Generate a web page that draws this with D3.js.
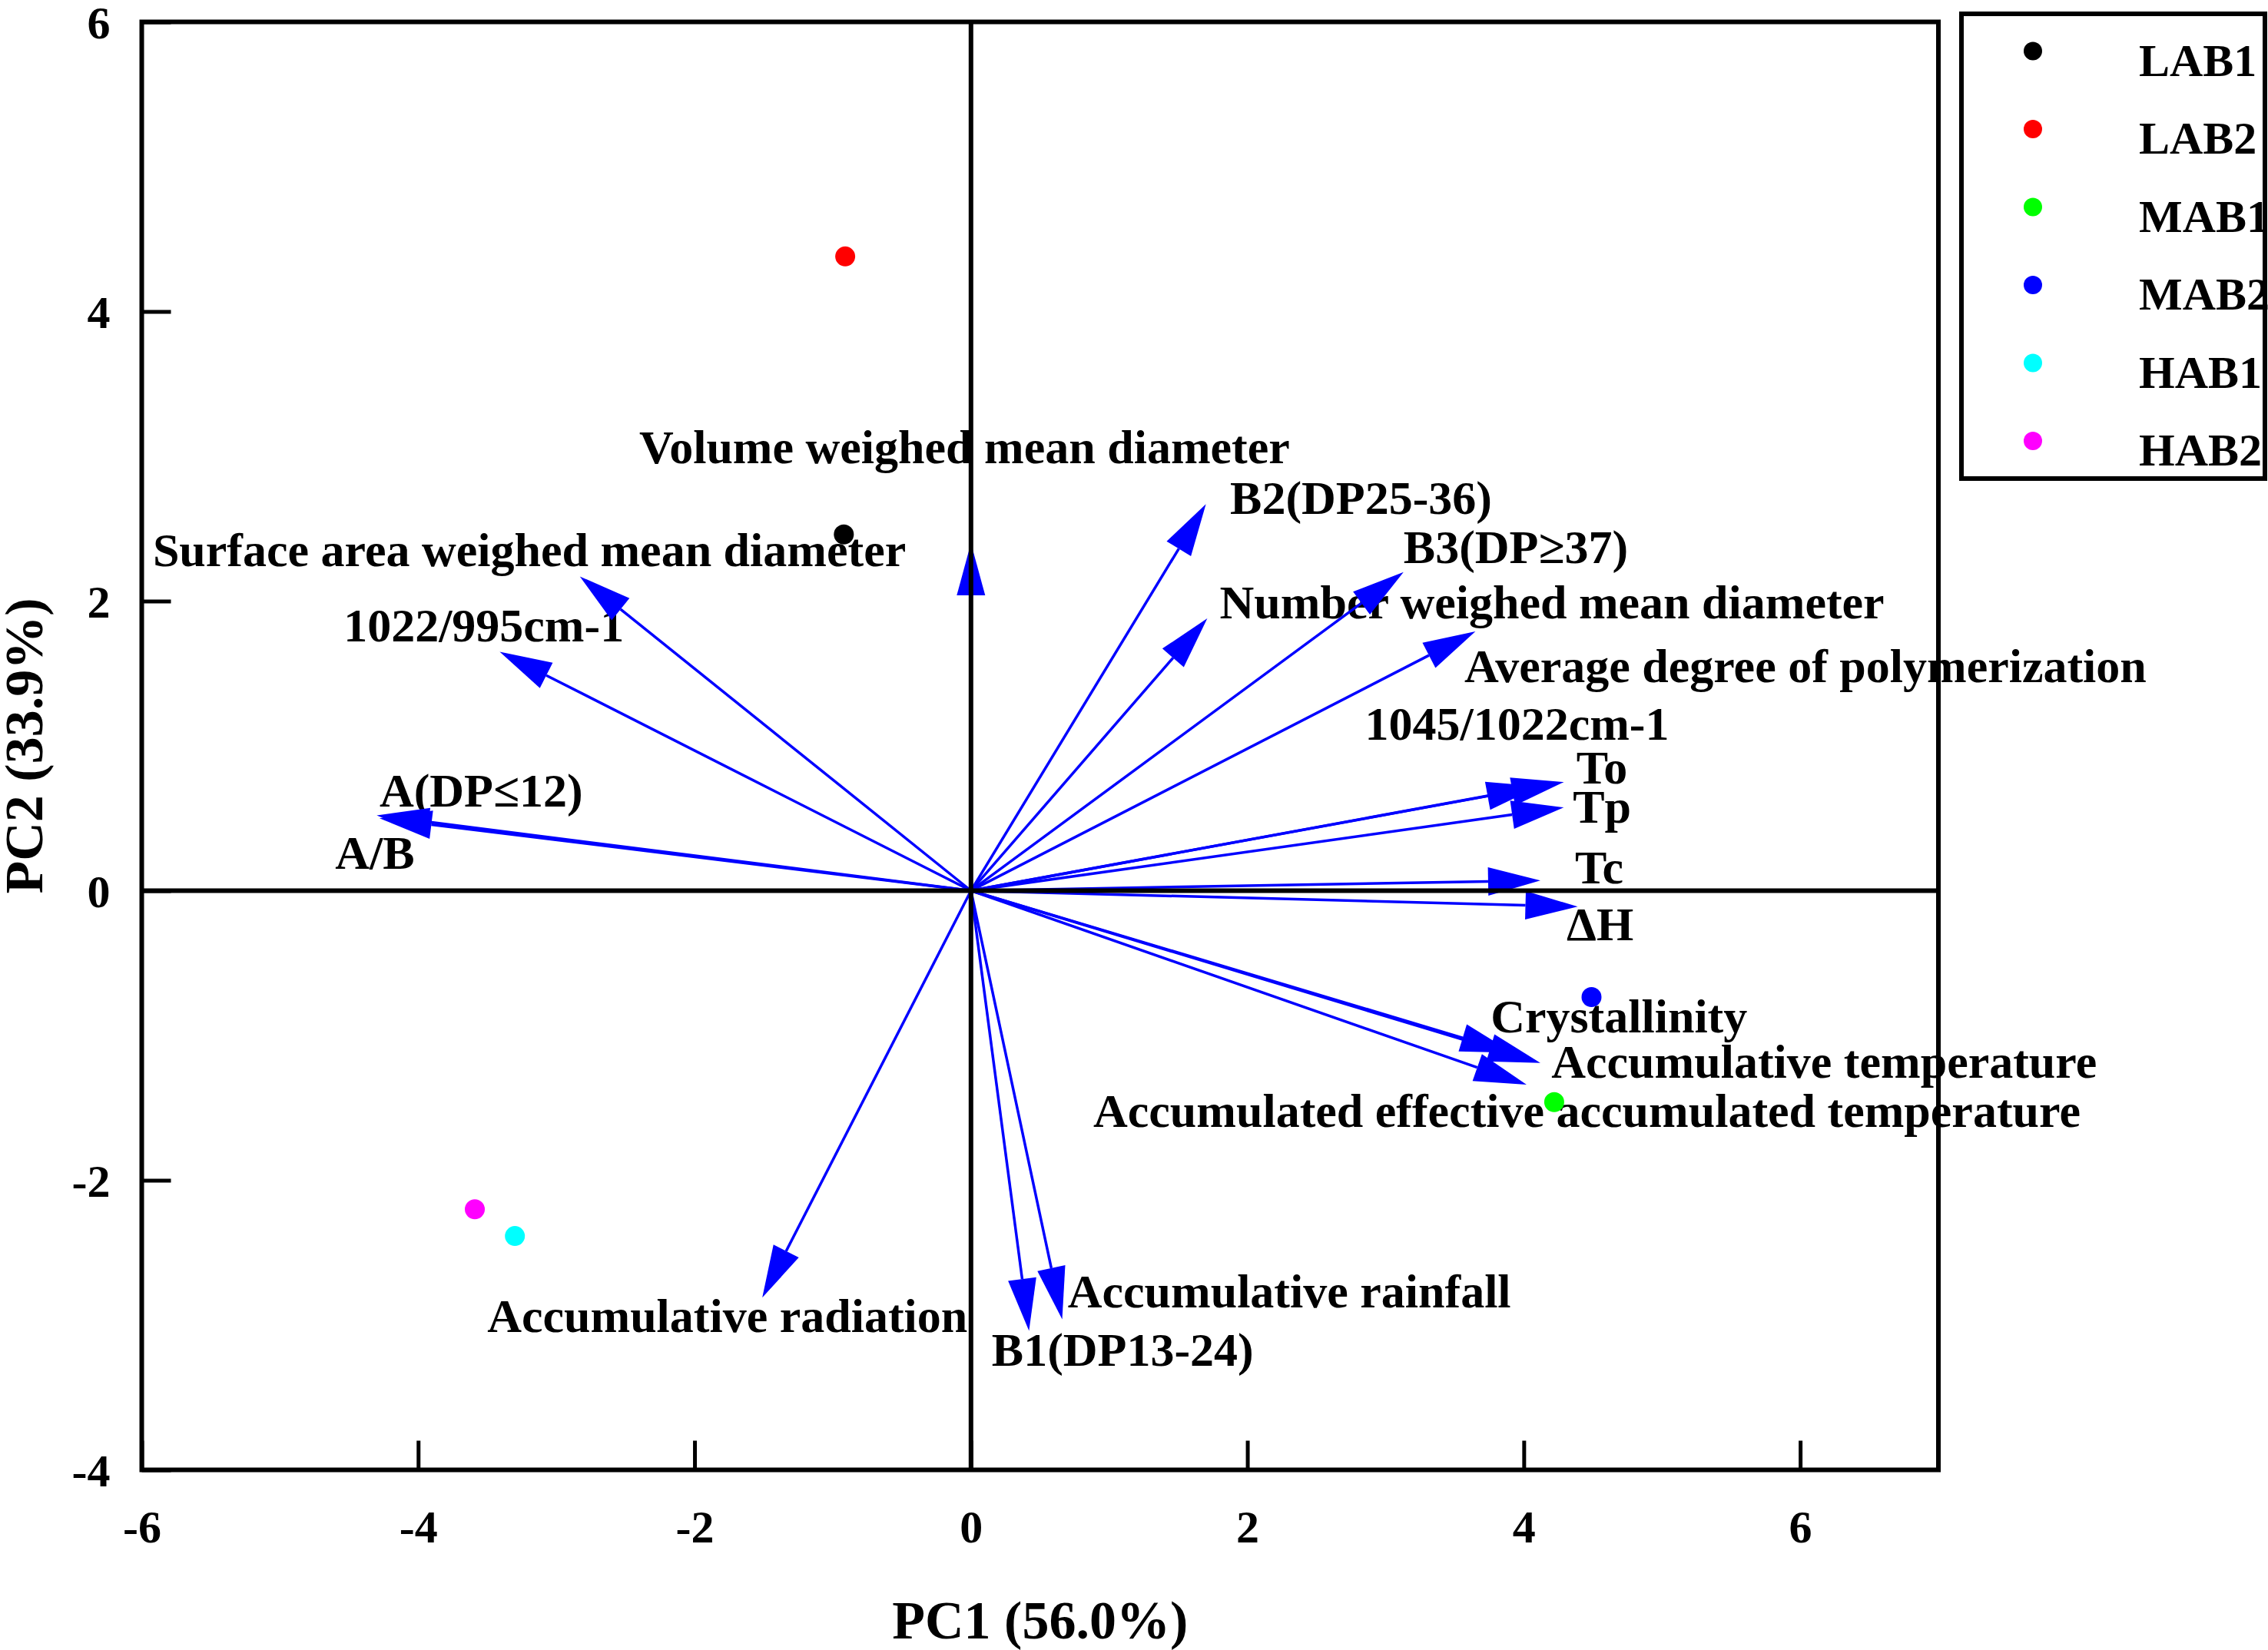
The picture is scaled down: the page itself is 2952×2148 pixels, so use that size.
<!DOCTYPE html>
<html>
<head>
<meta charset="utf-8">
<script src="https://cdn.jsdelivr.net/npm/d3@7"></script>
<style>
  body { margin: 0; background: #fff; }
  svg text { font-family: "Liberation Serif", "Times New Roman", serif; font-weight: bold; }
</style>
</head>
<body>
<svg id="chart" width="2952" height="2148"></svg>
<script>
// sample scores
var groups = ["LAB1", "LAB2", "MAB1", "MAB2", "HAB1", "HAB2"];
var groupColors = ["#000000", "#ff0000", "#00ff00", "#0000ff", "#00ffff", "#ff00ff"];
var pc1Scores = [-0.92, -0.91, 4.22, 4.49, -3.30, -3.59];
var pc2Scores = [2.46, 4.38, -1.46, -0.735, -2.385, -2.20];

// variable loadings (arrow tips)
var variables = [
  "Volume weighed mean diameter",
  "Surface area weighed mean diameter",
  "1022/995cm-1",
  "A(DP\u226412)",
  "A/B",
  "B2(DP25-36)",
  "B3(DP\u226537)",
  "Number weighed mean diameter",
  "Average degree of polymerization",
  "1045/1022cm-1",
  "To",
  "Tp",
  "Tc",
  "\u0394H",
  "Crystallinity",
  "Accumulative temperature",
  "Accumulated effective accumulated temperature",
  "Accumulative rainfall",
  "Accumulative radiation",
  "B1(DP13-24)"
];
var pc1Loadings = [0.0, -2.83, -3.41, -4.30, -4.28, 1.70, 3.13, 1.71, 3.65, 4.11, 4.29, 4.29, 4.12, 4.39, 3.92, 4.12, 4.02, 0.66, -1.51, 0.42];
var pc2Loadings = [2.40, 2.17, 1.65, 0.52, 0.50, 2.67, 2.20, 1.88, 1.79, 0.72, 0.75, 0.575, 0.07, -0.11, -1.12, -1.19, -1.34, -2.96, -2.81, -3.04];

// where each variable name sits (in PC units)
var labelPC1 = [-2.40, -5.92, -4.54, -4.28, -4.60, 1.875, 3.13, 1.80, 3.57, 2.85, 4.38, 4.355, 4.37, 4.31, 3.76, 4.20, 0.885, 0.70, -3.50, 0.15];
var labelPC2 = [2.95, 2.24, 1.72, 0.58, 0.15, 2.60, 2.26, 1.88, 1.44, 1.04, 0.74, 0.47, 0.05, -0.34, -0.98, -1.29, -1.63, -2.88, -3.05, -3.28];

var xTicks = [-6, -4, -2, 0, 2, 4, 6];
var yTicks = [-4, -2, 0, 2, 4, 6];

var plotL = 184.5, plotR = 2523, plotT = 28.5, plotB = 1913.5;

var svg = d3.select("#chart");

var x = d3.scaleLinear().domain([-6, 7]).range([plotL, plotR]);
var y = d3.scaleLinear().domain([-4, 6]).range([plotB, plotT]);

// variable labels
svg.append("g").selectAll("text")
  .data(variables)
  .enter()
  .append("text")
  .attr("x", function (d, i) { return x(labelPC1[i]); })
  .attr("y", function (d, i) { return y(labelPC2[i]); })
  .attr("font-size", 62)
  .attr("fill", "#000")
  .text(function (d) { return d; });

// arrows
var headLen = 68, headHalf = 18.5;
var arrows = svg.append("g");
variables.forEach(function (v, i) {
  var x0 = x(0), y0 = y(0);
  var x1 = x(pc1Loadings[i]), y1 = y(pc2Loadings[i]);
  var dx = x1 - x0, dy = y1 - y0;
  var len = Math.sqrt(dx * dx + dy * dy);
  var ux = dx / len, uy = dy / len;
  var bx = x1 - ux * headLen, by = y1 - uy * headLen;
  arrows.append("line")
    .attr("x1", x0).attr("y1", y0)
    .attr("x2", bx).attr("y2", by)
    .attr("stroke", "#0000ff")
    .attr("stroke-width", 3.5);
  arrows.append("polygon")
    .attr("points", [
      [x1, y1],
      [bx - uy * headHalf, by + ux * headHalf],
      [bx + uy * headHalf, by - ux * headHalf]
    ].map(function (p) { return p.join(","); }).join(" "))
    .attr("fill", "#0000ff");
});

// zero lines
svg.append("line")
  .attr("x1", x(0)).attr("x2", x(0))
  .attr("y1", plotT).attr("y2", plotB)
  .attr("stroke", "#000").attr("stroke-width", 6);
svg.append("line")
  .attr("x1", plotL).attr("x2", plotR)
  .attr("y1", y(0)).attr("y2", y(0))
  .attr("stroke", "#000").attr("stroke-width", 6);

// axes
var xAxis = svg.append("g")
  .attr("transform", "translate(0," + plotB + ")")
  .call(d3.axisBottom(x).tickValues(xTicks).tickSize(-38).tickFormat(function (d) { return String(d); }));
xAxis.attr("font-family", null).attr("font-size", null);
xAxis.select(".domain").remove();
xAxis.selectAll("line").attr("stroke", "#000").attr("stroke-width", 5);
xAxis.selectAll("text")
  .attr("y", 94).attr("dy", 0)
  .attr("font-size", 60)
  .attr("fill", "#000");

var yAxis = svg.append("g")
  .attr("transform", "translate(" + plotL + ",0)")
  .call(d3.axisLeft(y).tickValues(yTicks).tickSize(-38).tickFormat(function (d) { return String(d); }));
yAxis.attr("font-family", null).attr("font-size", null);
yAxis.select(".domain").remove();
yAxis.selectAll("line").attr("stroke", "#000").attr("stroke-width", 5);
yAxis.selectAll("text")
  .attr("x", -41).attr("dy", "0.35em")
  .attr("font-size", 60)
  .attr("fill", "#000");

// frame
svg.append("rect")
  .attr("x", plotL).attr("y", plotT)
  .attr("width", plotR - plotL).attr("height", plotB - plotT)
  .attr("fill", "none").attr("stroke", "#000").attr("stroke-width", 6);

// sample points
svg.append("g").selectAll("circle")
  .data(groups)
  .enter()
  .append("circle")
  .attr("cx", function (d, i) { return x(pc1Scores[i]); })
  .attr("cy", function (d, i) { return y(pc2Scores[i]); })
  .attr("r", 13)
  .attr("fill", function (d, i) { return groupColors[i]; });

// axis titles
svg.append("text")
  .attr("x", (plotL + plotR) / 2).attr("y", 2133)
  .attr("text-anchor", "middle")
  .attr("font-size", 70)
  .text("PC1 (56.0%)");
svg.append("text")
  .attr("transform", "translate(55," + ((plotT + plotB) / 2) + ") rotate(-90)")
  .attr("text-anchor", "middle")
  .attr("font-size", 70)
  .text("PC2 (33.9%)");

// legend
var legend = svg.append("g");
legend.append("rect")
  .attr("x", 2553).attr("y", 18)
  .attr("width", 395).attr("height", 605)
  .attr("fill", "none").attr("stroke", "#000").attr("stroke-width", 6);
var ly = d3.scalePoint().domain(groups).range([66.5, 574]);
legend.selectAll("circle")
  .data(groups)
  .enter()
  .append("circle")
  .attr("cx", 2646)
  .attr("cy", function (d) { return ly(d); })
  .attr("r", 12)
  .attr("fill", function (d, i) { return groupColors[i]; });
legend.selectAll("text")
  .data(groups)
  .enter()
  .append("text")
  .attr("x", 2784)
  .attr("y", function (d) { return ly(d) + 32; })
  .attr("font-size", 60)
  .text(function (d) { return d; });
</script>
</body>
</html>
